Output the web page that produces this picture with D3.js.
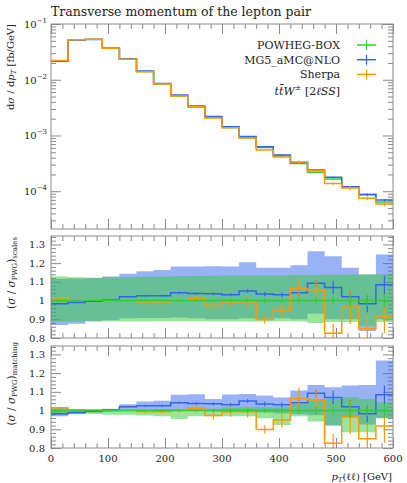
<!DOCTYPE html>
<html lang="en">
<head>
  <meta charset="UTF-8">
  <title>Transverse momentum of the lepton pair</title>
  <script src="https://d3js.org/d3.v7.min.js"></script>
  <style>
    body { margin: 0; background: #fff; }
    svg text { font-family: "DejaVu Serif", serif; fill: #222; }
    .frame { fill: none; stroke: #8a8a8a; stroke-width: 1; }
    .tick line { stroke: #8a8a8a; }
    .domain { display: none; }
  </style>
</head>
<body>
  <div id="chart"></div>

  <script>
    // bin edges in GeV
    const edges = [0, 30, 60, 90, 120, 150, 180, 210, 240, 270, 300, 330, 360, 390, 420, 450, 480, 510, 540, 570, 600];

    // dsigma/dpT [fb/GeV]
    const powheg = [0.0218, 0.0520, 0.0530, 0.0366, 0.0232, 0.0140, 0.0084, 0.0051, 0.00325, 0.00210,
                    0.00139, 0.00091, 0.00061, 0.000435, 0.000315, 0.000220, 0.000166, 0.000118, 0.0000880, 0.0000640];
    const mg5 = [0.0214, 0.0515, 0.0528, 0.0367, 0.0237, 0.0144, 0.0086, 0.0053, 0.00337, 0.00218,
                 0.00143, 0.00096, 0.00063, 0.000448, 0.000328, 0.000240, 0.000178, 0.000120, 0.0000865, 0.0000694];
    const sherpa = [0.0221, 0.0522, 0.0531, 0.0366, 0.0232, 0.0139, 0.00835, 0.0051, 0.00328, 0.00205,
                    0.00138, 0.000905, 0.000548, 0.000413, 0.000335, 0.000233, 0.000137, 0.000114, 0.0000748, 0.0000587];

    // ratios to POWHEG-BOX
    const ratioPwg = [1, 1, 1, 1, 1, 1, 1, 1, 1, 1, 1, 1, 1, 1, 1, 1, 1, 1, 1, 1];
    const ratioMg5 = [0.983, 0.99, 0.997, 1.004, 1.02, 1.026, 1.026, 1.042, 1.038, 1.037,
                      1.031, 1.051, 1.035, 1.031, 1.042, 1.092, 1.07, 1.02, 0.983, 1.084];
    const ratioSherpa = [1.015, 1.004, 1.002, 1.0, 1.002, 0.994, 0.994, 1.002, 1.01, 0.974,
                         0.994, 0.994, 0.899, 0.95, 1.064, 1.057, 0.826, 0.965, 0.85, 0.917];

    // statistical errors (relative)
    const errPwg = [0.002, 0.002, 0.002, 0.002, 0.003, 0.004, 0.005, 0.006, 0.007, 0.008,
                    0.01, 0.011, 0.012, 0.014, 0.017, 0.022, 0.023, 0.04, 0.03, 0.036];
    const errMg5 = [0.003, 0.002, 0.002, 0.003, 0.004, 0.005, 0.006, 0.007, 0.007, 0.008,
                    0.009, 0.011, 0.012, 0.013, 0.016, 0.018, 0.035, 0.036, 0.045, 0.05];
    const errSherpa = [0.006, 0.004, 0.004, 0.005, 0.006, 0.008, 0.01, 0.012, 0.018, 0.02,
                       0.027, 0.03, 0.022, 0.04, 0.058, 0.058, 0.05, 0.09, 0.08, 0.09];

    // scale variation bands
    const scalesPwgHi = [1.128, 1.125, 1.122, 1.125, 1.125, 1.127, 1.128, 1.13, 1.131, 1.132,
                         1.134, 1.134, 1.134, 1.134, 1.137, 1.137, 1.138, 1.139, 1.139, 1.14];
    const scalesPwgLo = [0.888, 0.888, 0.89, 0.89, 0.888, 0.888, 0.89, 0.89, 0.89, 0.888,
                         0.888, 0.888, 0.888, 0.89, 0.888, 0.88, 0.886, 0.886, 0.866, 0.886];
    const scalesMg5Hi = [1.116, 1.118, 1.12, 1.128, 1.143, 1.157, 1.164, 1.182, 1.182, 1.184,
                         1.182, 1.205, 1.175, 1.175, 1.189, 1.264, 1.237, 1.175, 1.139, 1.246];
    const scalesMg5Lo = [0.87, 0.876, 0.89, 0.895, 0.905, 0.907, 0.907, 0.91, 0.905, 0.9,
                         0.9, 0.905, 0.9, 0.905, 0.9, 0.93, 0.9, 0.9, 0.838, 0.9];

    // matching variation bands
    const matchPwgHi = [1.012, 1.008, 1.006, 1.005, 1.004, 1.004, 1.009, 1.009, 1.016, 1.01,
                        1.016, 1.018, 1.018, 1.018, 1.035, 1.062, 1.062, 1.071, 1.062, 1.045];
    const matchPwgLo = [0.977, 0.98, 0.982, 0.977, 0.977, 0.973, 0.97, 0.955, 0.97, 0.97,
                        0.97, 0.97, 0.959, 0.923, 0.97, 0.941, 0.92, 0.884, 0.884, 0.959];
    const matchMg5Hi = [1.012, 1.005, 1.003, 1.01, 1.034, 1.048, 1.053, 1.084, 1.087, 1.062,
                        1.086, 1.089, 1.08, 1.07, 1.107, 1.137, 1.125, 1.134, 1.137, 1.267];
    const matchMg5Lo = [0.97, 0.982, 0.99, 0.995, 0.998, 1.0, 1.0, 1.0, 0.998, 0.995,
                        0.995, 1.0, 0.99, 0.985, 0.98, 0.975, 0.92, 0.965, 0.925, 0.96];

    const xMajor = [0, 100, 200, 300, 400, 500, 600];
    const xMinor = [20, 40, 60, 80, 120, 140, 160, 180, 220, 240, 260, 280, 320, 340, 360, 380,
                    420, 440, 460, 480, 520, 540, 560, 580];
    const ratioMajor = [0.8, 0.9, 1.0, 1.1, 1.2, 1.3];
    const ratioLabels = ["0.8", "0.9", "1", "1.1", "1.2", "1.3"];
    const mainMajor = [1e-4, 1e-3, 1e-2, 1e-1];
    const mainLabels = ["−4", "−3", "−2", "−1"];

    const colPwg = "#33cc33", colMg5 = "#3366ee", colSherpa = "#ff9900";

    const w = 407, h = 483;
    const left = 51, right = 393;

    const svg = d3.select("#chart").append("svg")
      .attr("width", w)
      .attr("height", h);

    const x = d3.scaleLinear().domain([0, 600]).range([left, right]);
    const yMain = d3.scaleLog().domain([2.1e-5, 0.1]).range([229, 24]);
    const yScales = d3.scaleLinear().domain([0.8, 1.345]).range([338, 236]);
    const yMatch = d3.scaleLinear().domain([0.8, 1.345]).range([448, 346]);

    const centers = edges.slice(0, -1).map((e, i) => (e + edges[i + 1]) / 2);

    function stepLine(y, vals) {
      const pts = vals.map((v, i) => [edges[i], v]).concat([[edges[edges.length - 1], vals[vals.length - 1]]]);
      return d3.line().x(d => x(d[0])).y(d => y(d[1])).curve(d3.curveStepAfter)(pts);
    }
    function stepArea(y, lo, hi) {
      const pts = lo.map((v, i) => [edges[i], v, hi[i]]).concat([[edges[edges.length - 1], lo[lo.length - 1], hi[hi.length - 1]]]);
      return d3.area().x(d => x(d[0])).y0(d => y(d[1])).y1(d => y(d[2])).curve(d3.curveStepAfter)(pts);
    }

    function clip(id, y) {
      svg.append("clipPath").attr("id", id).append("rect")
        .attr("x", left).attr("y", y.range()[1])
        .attr("width", right - left).attr("height", y.range()[0] - y.range()[1]);
    }

    function xTicks(y) {
      const top = y.range()[1], bot = y.range()[0];
      [[xMajor, 10], [xMinor, 5]].forEach(([vals, len]) => {
        svg.append("g").attr("transform", `translate(0,${bot})`)
          .call(d3.axisTop(x).tickValues(vals).tickSize(len).tickFormat(""));
        svg.append("g").attr("transform", `translate(0,${top})`)
          .call(d3.axisBottom(x).tickValues(vals).tickSize(len).tickFormat(""));
      });
    }

    function frame(y) {
      svg.append("rect").attr("class", "frame")
        .attr("x", left).attr("y", y.range()[1])
        .attr("width", right - left).attr("height", y.range()[0] - y.range()[1]);
    }

    // ---------- main panel ----------
    clip("clipMain", yMain);
    xTicks(yMain);

    const logMinor = [];
    [1e-5, 1e-4, 1e-3, 1e-2].forEach(d => [2, 3, 4, 5, 6, 7, 8, 9].forEach(k => {
      const v = d * k;
      if (v >= yMain.domain()[0] && v < 0.1) logMinor.push(v);
    }));
    [[mainMajor, 10], [logMinor, 5]].forEach(([vals, len]) => {
      svg.append("g").attr("transform", `translate(${left},0)`)
        .call(d3.axisRight(yMain).tickValues(vals).tickSize(len).tickFormat(""));
      svg.append("g").attr("transform", `translate(${right},0)`)
        .call(d3.axisLeft(yMain).tickValues(vals).tickSize(len).tickFormat(""));
    });
    mainMajor.forEach((v, i) => {
      const t = svg.append("text")
        .attr("x", 47).attr("y", yMain(v) + 4)
        .attr("text-anchor", "end")
        .style("font-size", "10px")
        .text("10");
      t.append("tspan").attr("dy", -5).style("font-size", "7px").text(mainLabels[i]);
    });

    const gMain = svg.append("g").attr("clip-path", "url(#clipMain)");
    [[powheg, errPwg, colPwg], [mg5, errMg5, colMg5], [sherpa, errSherpa, colSherpa]].forEach(([vals, err, col]) => {
      gMain.append("path")
        .attr("d", stepLine(yMain, vals))
        .attr("fill", "none").attr("stroke", col).attr("stroke-width", 1.5);
      gMain.selectAll(null).data(vals).enter().append("line")
        .attr("x1", (d, i) => x(centers[i])).attr("x2", (d, i) => x(centers[i]))
        .attr("y1", (d, i) => yMain(d * (1 + err[i])))
        .attr("y2", (d, i) => yMain(d * (1 - err[i])))
        .attr("stroke", col).attr("stroke-width", 1.2);
    });
    frame(yMain);

    // title
    svg.append("text").attr("x", left).attr("y", 15.5)
      .style("font-size", "12.5px")
      .text("Transverse momentum of the lepton pair");

    // y label
    const yl = svg.append("text")
      .attr("transform", "translate(14,24) rotate(-90)")
      .attr("text-anchor", "end")
      .style("font-size", "10px");
    yl.append("tspan").text("d");
    yl.append("tspan").style("font-style", "italic").text("σ");
    yl.append("tspan").text(" / d");
    yl.append("tspan").style("font-style", "italic").text("p");
    yl.append("tspan").style("font-style", "italic").style("font-size", "7px").attr("dy", 2).text("T");
    yl.append("tspan").attr("dy", -2).text(" [fb/GeV]");

    // legend
    const legend = [["POWHEG-BOX", colPwg], ["MG5_aMC@NLO", colMg5], ["Sherpa", colSherpa]];
    legend.forEach(([name, col], i) => {
      const yy = 45 + i * 14.7;
      svg.append("text").attr("x", 340).attr("y", yy + 4)
        .attr("text-anchor", "end").style("font-size", "11px").text(name);
      svg.append("line").attr("x1", 357).attr("x2", 376).attr("y1", yy).attr("y2", yy)
        .attr("stroke", col).attr("stroke-width", 1.5);
      svg.append("line").attr("x1", 366.5).attr("x2", 366.5).attr("y1", yy - 5).attr("y2", yy + 5)
        .attr("stroke", col).attr("stroke-width", 1.2);
    });
    const proc = svg.append("text").attr("x", 340).attr("y", 94.5)
      .attr("text-anchor", "end").style("font-size", "11px");
    proc.append("tspan").style("font-style", "italic").text("t");
    proc.append("tspan").style("font-style", "italic").text("t\u0304");
    proc.append("tspan").style("font-style", "italic").text("W");
    proc.append("tspan").attr("dy", -5).style("font-size", "8px").text("±");
    proc.append("tspan").attr("dy", 5).text(" [2");
    proc.append("tspan").style("font-style", "italic").text("ℓSS");
    proc.append("tspan").text("]");

    // ---------- ratio panels ----------
    function ratioPanel(id, y, pwgLo, pwgHi, mg5Lo, mg5Hi, labelTop, sub) {
      clip(id, y);
      xTicks(y);
      const minor = [];
      for (let k = 0; k <= 27; k++) {
        const v = +(0.8 + k * 0.02).toFixed(2);
        if (Math.round(v * 100) % 10 !== 0) minor.push(v);
      }
      [[ratioMajor, 10], [minor, 5]].forEach(([vals, len]) => {
        svg.append("g").attr("transform", `translate(${left},0)`)
          .call(d3.axisRight(y).tickValues(vals).tickSize(len).tickFormat(""));
        svg.append("g").attr("transform", `translate(${right},0)`)
          .call(d3.axisLeft(y).tickValues(vals).tickSize(len).tickFormat(""));
      });
      ratioMajor.forEach((v, i) => {
        svg.append("text").attr("x", 45).attr("y", y(v) + 3.5)
          .attr("text-anchor", "end").style("font-size", "10px").text(ratioLabels[i]);
      });

      const g = svg.append("g").attr("clip-path", `url(#${id})`);
      g.append("path").attr("d", stepArea(y, mg5Lo, mg5Hi))
        .attr("fill", colMg5).attr("fill-opacity", 0.5);
      g.append("path").attr("d", stepArea(y, pwgLo, pwgHi))
        .attr("fill", colPwg).attr("fill-opacity", 0.5);
      [[ratioMg5, errMg5, colMg5], [ratioSherpa, errSherpa, colSherpa], [ratioPwg, errPwg, colPwg]].forEach(([vals, err, col]) => {
        g.append("path").attr("d", stepLine(y, vals))
          .attr("fill", "none").attr("stroke", col).attr("stroke-width", 1.5);
        g.selectAll(null).data(vals).enter().append("line")
          .attr("x1", (d, i) => x(centers[i])).attr("x2", (d, i) => x(centers[i]))
          .attr("y1", (d, i) => y(d + err[i])).attr("y2", (d, i) => y(d - err[i]))
          .attr("stroke", col).attr("stroke-width", 1.2);
      });
      frame(y);

      const t = svg.append("text")
        .attr("transform", `translate(15,${labelTop}) rotate(-90)`)
        .attr("text-anchor", "end")
        .style("font-size", "10.5px");
      t.append("tspan").text("(");
      t.append("tspan").style("font-style", "italic").text("σ");
      t.append("tspan").text(" / ");
      t.append("tspan").style("font-style", "italic").text("σ");
      t.append("tspan").attr("dy", 2).style("font-size", "7px").text("PWG");
      t.append("tspan").attr("dy", -2).text(")");
      t.append("tspan").attr("dy", 2).style("font-size", "7px").text(sub);
    }

    ratioPanel("clipScales", yScales, scalesPwgLo, scalesPwgHi, scalesMg5Lo, scalesMg5Hi, 237, "scales");
    ratioPanel("clipMatch", yMatch, matchPwgLo, matchPwgHi, matchMg5Lo, matchMg5Hi, 342, "matching");

    // x tick labels
    xMajor.forEach(v => {
      svg.append("text").attr("x", x(v)).attr("y", 462)
        .attr("text-anchor", "middle").style("font-size", "10px").text(v);
    });

    // x label
    const xl = svg.append("text").attr("x", 392).attr("y", 480)
      .attr("text-anchor", "end").style("font-size", "10px");
    xl.append("tspan").style("font-style", "italic").text("p");
    xl.append("tspan").style("font-style", "italic").style("font-size", "7px").attr("dy", 2).text("T");
    xl.append("tspan").attr("dy", -2).text("(ℓℓ) [GeV]");
  </script>
</body>
</html>
